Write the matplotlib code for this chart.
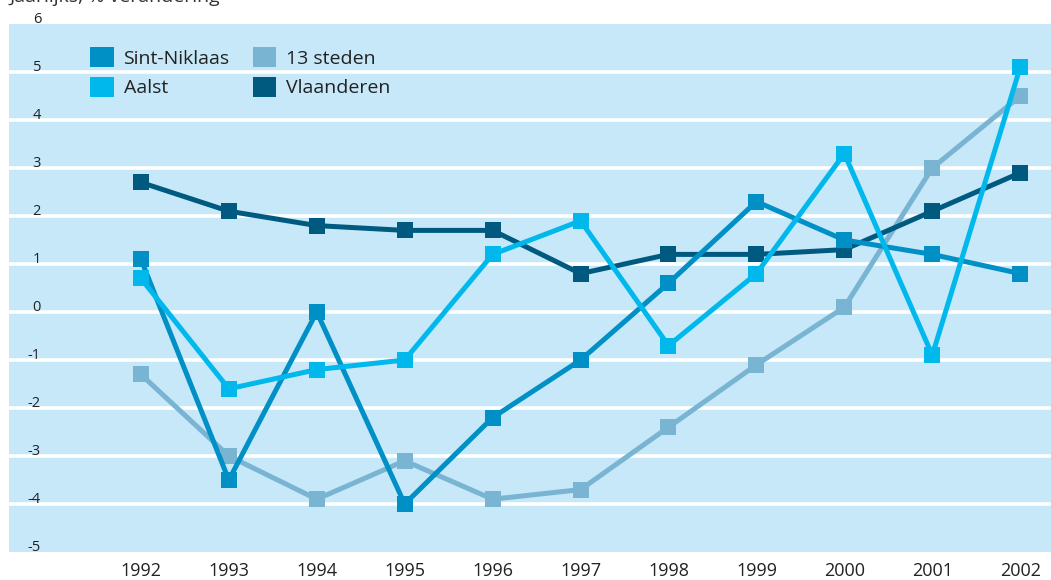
import matplotlib
matplotlib.use("Agg")
import matplotlib.pyplot as plt
from matplotlib.patches import Patch
import matplotlib.transforms as mtransforms

years = [1992, 1993, 1994, 1995, 1996, 1997, 1998, 1999, 2000, 2001, 2002]
sint_niklaas = [1.1, -3.5, 0.0, -4.0, -2.2, -1.0, 0.6, 2.3, 1.5, 1.2, 0.8]
aalst = [0.7, -1.6, -1.2, -1.0, 1.2, 1.9, -0.7, 0.8, 3.3, -0.9, 5.1]
steden13 = [-1.3, -3.0, -3.9, -3.1, -3.9, -3.7, -2.4, -1.1, 0.1, 3.0, 4.5]
vlaanderen = [2.7, 2.1, 1.8, 1.7, 1.7, 0.8, 1.2, 1.2, 1.3, 2.1, 2.9]
y_ticks = [-5, -4, -3, -2, -1, 0, 1, 2, 3, 4, 5, 6]
title_text = "Jaarlijks, % verandering"

colors = {
    "Sint-Niklaas": "#0090C6",
    "Aalst": "#00B8EC",
    "13 steden": "#79B4D2",
    "Vlaanderen": "#005A80",
}

plt.rcParams['font.family'] = ['Open Sans', 'DejaVu Sans']

W, H = 1051, 580
fig = plt.figure(figsize=(W / 100, H / 100), dpi=100)
ax = fig.add_axes([9 / W, (H - 552) / H, (W - 9) / W, (552 - 24) / H])
ax.set_facecolor("#C6E8F8")
for s in ax.spines.values():
    s.set_visible(False)

ax.set_xlim(1990.5, 2002.35)
ax.set_ylim(-5, 6)

for y in y_ticks[1:-1]:
    ax.axhline(y, color="white", lw=2.6, zorder=1)

data = {
    "13 steden": steden13,
    "Vlaanderen": vlaanderen,
    "Sint-Niklaas": sint_niklaas,
    "Aalst": aalst,
}
z = 3
for name, vals in data.items():
    ax.plot(years, vals, color=colors[name], lw=3.6, marker="s", markersize=11.5,
            markeredgewidth=0, zorder=z, solid_joinstyle="miter")
    z += 1

ax.set_xticks(years)
ax.set_xticklabels([str(y) for y in years], fontsize=13, color="#222222")
ax.tick_params(axis="x", length=0, pad=7)
ax.set_yticks([])

trans = mtransforms.blended_transform_factory(fig.transFigure, ax.transData)
for y in y_ticks:
    ax.text(41 / W, y + 0.02, str(y), transform=trans, ha="right", va="baseline",
            fontsize=10.5, color="#222222", clip_on=False)

fig.text(10 / W, 1 - 2 / H, title_text, ha="left", va="baseline", fontsize=14,
         color="#333333")

handles = [Patch(facecolor=colors[n], edgecolor="none") for n in
           ["Sint-Niklaas", "Aalst", "13 steden", "Vlaanderen"]]
labels = ["Sint-Niklaas", "Aalst", "13 steden", "Vlaanderen"]
leg = ax.legend(handles, labels, ncol=2, loc="upper left",
                bbox_to_anchor=(62 / (W - 9), 1 - 4 / 528), frameon=False,
                fontsize=14, handlelength=1.2, handleheight=1.2,
                handletextpad=0.5, columnspacing=1.2, labelspacing=0.45,
                borderpad=0.5, labelcolor="#222222")

fig.savefig("out.png", dpi=100)
